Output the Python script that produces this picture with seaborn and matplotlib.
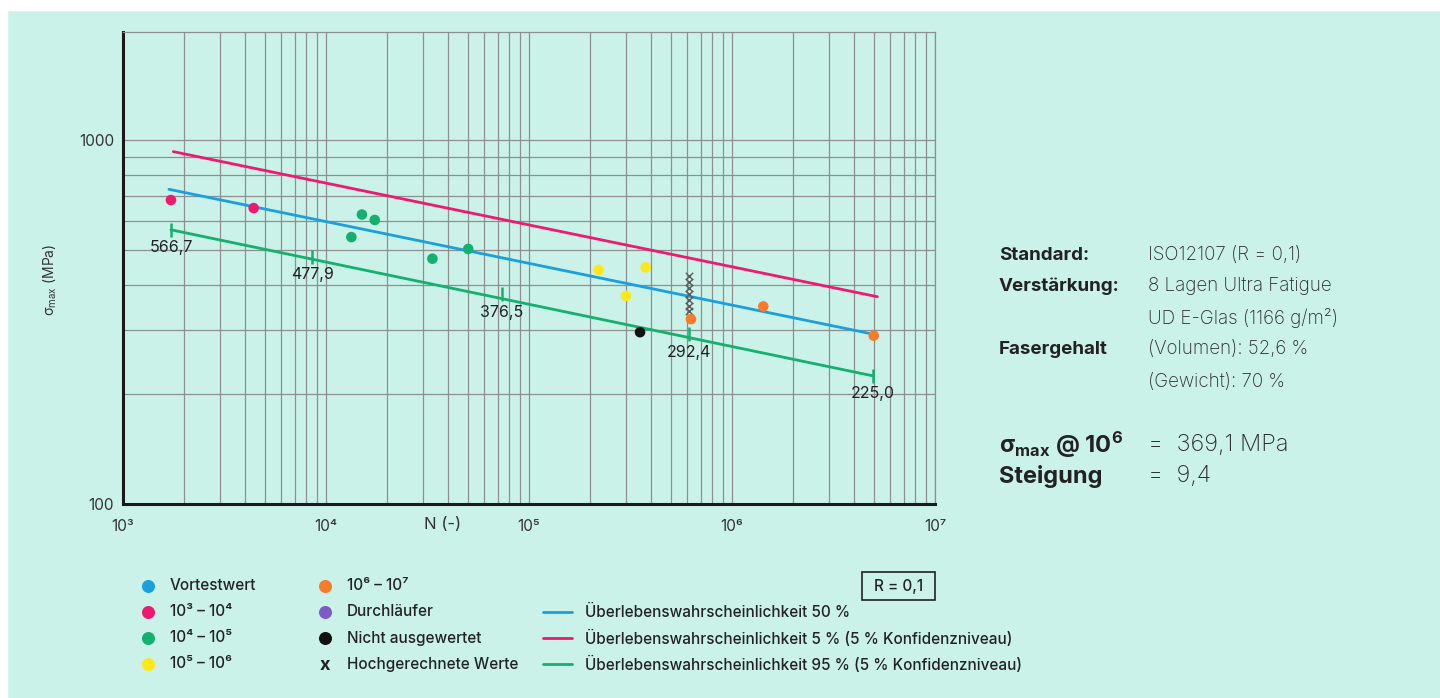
import numpy as np
import pandas as pd
import matplotlib.pyplot as plt
import seaborn as sns
from matplotlib.ticker import FixedLocator, LogLocator, NullFormatter, FixedFormatter
from matplotlib.patches import Rectangle

# %%
# values

# test points (cycles N, max stress in MPa, group)
pts_n = [1722, 4403, 13330, 15030, 17380, 33430, 50200,
         220300, 300500, 375700, 352300, 628000, 1426000, 4990000]
pts_s = [684, 650, 541, 624, 603, 472, 502,
         440, 373, 447, 296.5, 322, 349, 290]
pts_grp = ['1e3', '1e3', '1e4', '1e4', '1e4', '1e4', '1e4',
           '1e5', '1e5', '1e5', 'na', '1e6', '1e6', '1e6']

# extrapolated values ("Hochgerechnete Werte")
extrap_n = [612000] * 7
extrap_s = [423, 407, 392, 377, 363, 350, 339]

# survival probability lines, start / end points
curve_names = ['p50', 'p5', 'p95']
curve_n = [[1685, 4.79e6], [1770, 5.2e6], [1722, 4.93e6]]
curve_s = [[732, 294], [929, 371], [566.7, 225.0]]

# labelled marks on the 95 % line
mark_n = [1722, 8563, 73400, 616000, 4.93e6]
mark_s = [566.7, 477.9, 376.5, 292.4, 225.0]

x_ticks = [1e3, 1e4, 1e5, 1e6, 1e7]
x_ticklabels = ['10³', '10⁴', '10⁵', '10⁶', '10⁷']
y_major = [100, 1000]
y_minor = [200, 300, 400, 500, 600, 700, 800, 900]

legend_pts = ['Vortestwert', '10³ – 10⁴', '10⁴ – 10⁵', '10⁵ – 10⁶',
              '10⁶ – 10⁷', 'Durchläufer', 'Nicht ausgewertet']
legend_keys = ['pre', '1e3', '1e4', '1e5', '1e6', 'run', 'na']
legend_lines = ['Überlebenswahrscheinlichkeit 50 %',
                'Überlebenswahrscheinlichkeit 5 % (5 % Konfidenzniveau)',
                'Überlebenswahrscheinlichkeit 95 % (5 % Konfidenzniveau)']

info_keys = ['Standard:', 'Verstärkung:', '', 'Fasergehalt', '']
info_vals = ['ISO12107 (R = 0,1)', '8 Lagen Ultra Fatigue',
             'UD E-Glas (1166 g/m²)', '(Volumen): 52,6 %', '(Gewicht): 70 %']
sigma_1e6 = 369.1
steigung = 9.4

# %%
MINT = '#caf2e9'
GRID = '#8e8e8e'
TXT = '#222222'
colors = {'pre': '#1a9fe0', '1e3': '#ee1a6f', '1e4': '#14b06f', '1e5': '#ffe81a',
          '1e6': '#f77b2a', 'run': '#7d5cc4', 'na': '#111111'}
curve_colors = {'p50': '#1a9fe0', 'p5': '#ee1a6f', 'p95': '#14b06f'}

sns.set_style('white')
plt.rcParams['font.family'] = ['Inter', 'DejaVu Sans']
plt.rcParams['mathtext.fontset'] = 'custom'
plt.rcParams['mathtext.rm'] = 'Inter'
plt.rcParams['mathtext.bf'] = 'Inter:bold'
plt.rcParams['mathtext.it'] = 'Inter'

W, H = 1440, 698
fig = plt.figure(figsize=(W / 100, H / 100), dpi=100)
fig.patch.set_facecolor(MINT)
# white margin at top / left
fig.patches.append(Rectangle((0, 0), 7 / W, 1, transform=fig.transFigure,
                             color='white', zorder=-1))
fig.patches.append(Rectangle((0, 1 - 10 / H), 1, 10 / H, transform=fig.transFigure,
                             color='white', zorder=-1))

ax = fig.add_axes([123 / W, (H - 504) / H, 812 / W, 472 / H])
ax.set_facecolor(MINT)
ax.set_xscale('log')
ax.set_yscale('log')
ax.set_xlim(1e3, 1e7)
ax.set_ylim(100, 1980)

df = pd.DataFrame({'N': pts_n, 'sigma': pts_s, 'grp': pts_grp})
curves = pd.DataFrame({
    'N': [n for ns in curve_n for n in ns],
    'sigma': [s for ss in curve_s for s in ss],
    'curve': [c for c in curve_names for _ in range(2)],
})

sns.lineplot(data=curves, x='N', y='sigma', hue='curve', palette=curve_colors,
             estimator=None, sort=False, lw=2, legend=False, ax=ax, zorder=3)
sns.scatterplot(data=df, x='N', y='sigma', hue='grp', palette=colors, s=58,
                linewidth=0, legend=False, ax=ax, zorder=5)
ax.scatter(extrap_n, extrap_s, marker='x', s=28, color='#5c5c5c', linewidths=1, zorder=4)

ax.plot(mark_n, mark_s, ls='none', marker='|', ms=10, mew=1.8,
        color=curve_colors['p95'], zorder=4)
for n, s in zip(mark_n, mark_s):
    ax.annotate(f'{s:.1f}'.replace('.', ','), (n, s), xytext=(0, -13),
                textcoords='offset points', ha='center', va='center',
                fontsize=11.5, color=TXT)

# axes / grid
ax.xaxis.set_major_locator(FixedLocator(x_ticks))
ax.xaxis.set_major_formatter(FixedFormatter(x_ticklabels))
ax.xaxis.set_minor_locator(LogLocator(base=10, subs=np.arange(2, 10)))
ax.xaxis.set_minor_formatter(NullFormatter())
ax.yaxis.set_major_locator(FixedLocator(y_major))
ax.yaxis.set_major_formatter(FixedFormatter([str(v) for v in y_major]))
ax.yaxis.set_minor_locator(FixedLocator(y_minor))
ax.yaxis.set_minor_formatter(NullFormatter())
ax.grid(True, which='both', color=GRID, lw=0.9)
ax.set_axisbelow(True)
ax.tick_params(which='both', length=0)
ax.tick_params(axis='x', pad=11, labelsize=11, labelcolor='#333333')
ax.tick_params(axis='y', pad=6.5, labelsize=11, labelcolor='#333333')

for side in ['left', 'bottom']:
    ax.spines[side].set_color('#1a1a1a')
    ax.spines[side].set_linewidth(2.2)
for side in ['top', 'right']:
    ax.spines[side].set_color(GRID)
    ax.spines[side].set_linewidth(0.9)

ax.set_xlabel('')
ax.set_ylabel('σ$_{\\mathrm{max}}$ (MPa)', fontsize=10, color='#333333')
ax.yaxis.set_label_coords(-0.079, 0.475)
ax.text(0.394, -0.043, 'N (-)', transform=ax.transAxes, ha='center', va='center',
        fontsize=12, color='#333333')

# %%
# overlay in pixel coordinates for legend and info block
ov = fig.add_axes([0, 0, 1, 1])
ov.set_xlim(0, W)
ov.set_ylim(H, 0)
ov.axis('off')

rows = [586, 612, 638, 664]
for i, (lab, key) in enumerate(zip(legend_pts, legend_keys)):
    col, row = divmod(i, 4)
    mx = [148, 325][col]
    ov.scatter([mx], [rows[row]], s=88, color=colors[key], linewidth=0)
    ov.text(mx + 22, rows[row], lab, va='center', ha='left', fontsize=11,
            fontweight='medium', color=TXT)
ov.text(325, rows[3] + 1, 'x', ha='center', va='center', fontsize=13,
        fontweight='bold', color=TXT)
ov.text(347, rows[3], 'Hochgerechnete Werte', va='center', ha='left', fontsize=11,
        fontweight='medium', color=TXT)

for lab, key, y in zip(legend_lines, curve_names, rows[1:]):
    ov.plot([543, 572], [y, y], color=curve_colors[key], lw=2)
    ov.text(585, y, lab, va='center', ha='left', fontsize=11,
            fontweight='medium', color=TXT)

ov.add_patch(Rectangle((862, 572), 73, 28, fill=False, ec='#222222', lw=1.2))
ov.text(898.5, 586, 'R = 0,1', ha='center', va='center', fontsize=11,
        fontweight='medium', color=TXT)

info_rows = [255, 286, 318, 349, 382]
for k, v, y in zip(info_keys, info_vals, info_rows):
    if k:
        ov.text(999, y, k, ha='left', va='center', fontsize=13.5, fontweight='bold',
                color=TXT)
    ov.text(1148, y, v, ha='left', va='center', fontsize=13.5, fontweight='light',
            color='#2a2a2a')

ov.text(999, 445, 'σ$_{\\mathbf{max}}$ @ 10$^{\\mathbf{6}}$', ha='left', va='center',
        fontsize=17, fontweight='bold', color=TXT)
ov.text(1148, 445, '=  ' + f'{sigma_1e6:.1f}'.replace('.', ',') + ' MPa', ha='left',
        va='center', fontsize=17, fontweight='light', color='#2a2a2a')
ov.text(999, 476, 'Steigung', ha='left', va='center', fontsize=17, fontweight='bold',
        color=TXT)
ov.text(1148, 476, '=  ' + f'{steigung:.1f}'.replace('.', ','), ha='left', va='center',
        fontsize=17, fontweight='light', color='#2a2a2a')

fig.savefig('out.png', dpi=100, facecolor=fig.get_facecolor())
